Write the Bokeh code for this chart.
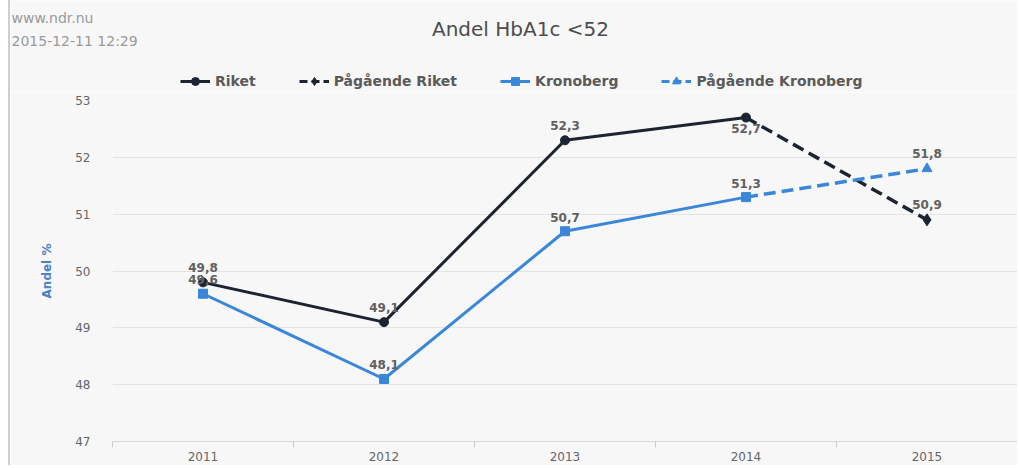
from bokeh.plotting import figure
from bokeh.models import (Range1d, FixedTicker, Legend, LegendItem,
                          ColumnDataSource, Spacer)
from bokeh.layouts import row
from bokeh.core.properties import value
from bokeh.embed import file_html
from bokeh.resources import INLINE

# ---- data ----
years = [2011, 2012, 2013, 2014, 2015]
year_labels = ["2011", "2012", "2013", "2014", "2015"]
riket_years = [2011, 2012, 2013, 2014]
riket = [49.8, 49.1, 52.3, 52.7]
pag_riket_years = [2014, 2015]
pag_riket = [52.7, 50.9]
kron_years = [2011, 2012, 2013, 2014]
kronoberg = [49.6, 48.1, 50.7, 51.3]
pag_kron_years = [2014, 2015]
pag_kron = [51.3, 51.8]
y_ticks = [47, 48, 49, 50, 51, 52, 53]
title_text = "Andel HbA1c <52"
source_lines = ["www.ndr.nu", "2015-12-11 12:29"]
legend_labels = ["Riket", "Pågående Riket", "Kronoberg", "Pågående Kronoberg"]

FONT = "DejaVu Sans"
C_RIKET = "#1b2430"
C_KRON = "#3a86d8"
BG = "#f7f7f7"
FIG_W = 1007
HEAD_H = 92
MAIN_H = 373

# ---------------- header (source, title, legend) ----------------
h = figure(width=FIG_W, height=HEAD_H, output_backend="svg", toolbar_location=None,
           x_range=Range1d(0, FIG_W), y_range=Range1d(HEAD_H, 0),
           min_border=0, min_border_left=0, min_border_right=0,
           min_border_top=0, min_border_bottom=0)
h.axis.visible = False
h.grid.visible = False
h.outline_line_color = None
h.background_fill_color = BG
h.border_fill_color = BG

h.text(x=[510], y=[28], text=[title_text], text_align="center", text_baseline="middle",
       text_font=value(FONT), text_font_size="20px", text_color="#4d4d4d")
h.text(x=[1, 1], y=[17, 40], text=source_lines, text_align="left", text_baseline="middle",
       text_font=value(FONT), text_font_size="14px", text_color="#9a9a9a")

# legend proxies (single point outside the visible header range)
px, py = [-500], [-500]
hr1 = h.line(x=px, y=py, line_color=C_RIKET, line_width=3)
hm1 = h.scatter(x=px, y=py, marker="circle", size=9, fill_color=C_RIKET, line_color=C_RIKET)
hr2 = h.line(x=px, y=py, line_color=C_RIKET, line_width=3, line_dash="8 4")
hm2 = h.scatter(x=px, y=py, marker="diamond", size=12, fill_color=C_RIKET, line_color=C_RIKET)
hr3 = h.line(x=px, y=py, line_color=C_KRON, line_width=3)
hm3 = h.scatter(x=px, y=py, marker="square", size=9, fill_color=C_KRON, line_color=C_KRON)
hr4 = h.line(x=px, y=py, line_color=C_KRON, line_width=3, line_dash="8 4")
hm4 = h.scatter(x=px, y=py, marker="triangle", size=10, fill_color=C_KRON, line_color=C_KRON)

legend = Legend(items=[
    LegendItem(label=legend_labels[0], renderers=[hr1, hm1], index=0),
    LegendItem(label=legend_labels[1], renderers=[hr2, hm2], index=0),
    LegendItem(label=legend_labels[2], renderers=[hr3, hm3], index=0),
    LegendItem(label=legend_labels[3], renderers=[hr4, hm4], index=0),
], orientation="horizontal", location=(170, 1))
legend.label_text_font = FONT
legend.label_text_font_size = "14px"
legend.label_text_font_style = "bold"
legend.label_text_color = "#5a5a5a"
legend.background_fill_alpha = 0
legend.border_line_color = None
legend.glyph_width = 30
legend.label_standoff = 5
legend.spacing = 43
legend.padding = 2
legend.margin = 0
h.add_layout(legend, "center")

# ---------------- main chart ----------------
p = figure(width=FIG_W, height=MAIN_H, output_backend="svg", toolbar_location=None,
           x_range=Range1d(2010.5, 2015.5), y_range=Range1d(47, 53),
           min_border_left=102, min_border_right=0, min_border_top=8,
           min_border_bottom=24)
p.background_fill_color = BG
p.border_fill_color = BG
p.outline_line_color = None

p.xaxis.ticker = FixedTicker(ticks=years, minor_ticks=[2010.5, 2011.5, 2012.5, 2013.5, 2014.5, 2015.5])
p.xaxis.major_label_overrides = {y: l for y, l in zip(years, year_labels)}
p.xaxis.major_tick_line_color = None
p.xaxis.minor_tick_line_color = "#cccccc"
p.xaxis.minor_tick_out = 6
p.xaxis.minor_tick_in = 0
p.xaxis.axis_line_color = "#d8d8d8"
p.xaxis.major_label_text_font = FONT
p.xaxis.major_label_text_font_size = "12px"
p.xaxis.major_label_text_color = "#666666"
p.xaxis.major_label_standoff = 4

p.yaxis.ticker = FixedTicker(ticks=y_ticks)
p.yaxis.axis_line_color = None
p.yaxis.major_tick_line_color = None
p.yaxis.minor_tick_line_color = None
p.yaxis.major_label_text_font = FONT
p.yaxis.major_label_text_font_size = "12px"
p.yaxis.major_label_text_color = "#666666"
p.yaxis.major_label_standoff = 16
p.yaxis.axis_label = "Andel %"
p.yaxis.axis_label_text_font = FONT
p.yaxis.axis_label_text_font_size = "12px"
p.yaxis.axis_label_text_font_style = "bold"
p.yaxis.axis_label_text_color = "#4a82c4"
p.yaxis.axis_label_standoff = 18

p.xgrid.grid_line_color = None
p.ygrid.ticker = FixedTicker(ticks=y_ticks)
p.ygrid.grid_line_color = "#e3e3e3"

p.line(riket_years, riket, line_color=C_RIKET, line_width=3)
p.scatter(riket_years, riket, marker="circle", size=9, fill_color=C_RIKET, line_color=C_RIKET)
p.line(pag_riket_years, pag_riket, line_color=C_RIKET, line_width=3.5, line_dash="12 6")
p.scatter(pag_riket_years[1:], pag_riket[1:], marker="diamond", size=12, fill_color=C_RIKET, line_color=C_RIKET)
p.line(kron_years, kronoberg, line_color=C_KRON, line_width=3)
p.scatter(kron_years, kronoberg, marker="square", size=9, fill_color=C_KRON, line_color=C_KRON)
p.line(pag_kron_years, pag_kron, line_color=C_KRON, line_width=3.5, line_dash="12 6")
p.scatter(pag_kron_years[1:], pag_kron[1:], marker="triangle", size=10, fill_color=C_KRON, line_color=C_KRON)

# data labels
lx, ly, lt, loff = [], [], [], []
for i, (x, y) in enumerate(zip(riket_years, riket)):
    lx.append(x); ly.append(y); lt.append(f"{y:.1f}".replace(".", ","))
    loff.append(11 if i == len(riket) - 1 else -15)
for x, y in zip(pag_riket_years[1:], pag_riket[1:]):
    lx.append(x); ly.append(y); lt.append(f"{y:.1f}".replace(".", ",")); loff.append(-15)
for x, y in zip(kron_years, kronoberg):
    lx.append(x); ly.append(y); lt.append(f"{y:.1f}".replace(".", ",")); loff.append(-14)
for x, y in zip(pag_kron_years[1:], pag_kron[1:]):
    lx.append(x); ly.append(y); lt.append(f"{y:.1f}".replace(".", ",")); loff.append(-15)
src = ColumnDataSource(dict(x=lx, y=ly, t=lt, off=loff))
p.text(x="x", y="y", text="t", y_offset="off", source=src, text_align="center",
       text_baseline="middle", text_font=value(FONT), text_font_size="12px",
       text_font_style="bold", text_color="#606060")

top = row(Spacer(width=8, height=HEAD_H),
          Spacer(width=2, height=HEAD_H, styles={"background-color": "#cfcfcf"}), h)
bottom = row(Spacer(width=8, height=MAIN_H),
             Spacer(width=2, height=MAIN_H, styles={"background-color": "#cfcfcf"}), p)

open("out.html", "w").write(file_html([top, bottom], INLINE))
